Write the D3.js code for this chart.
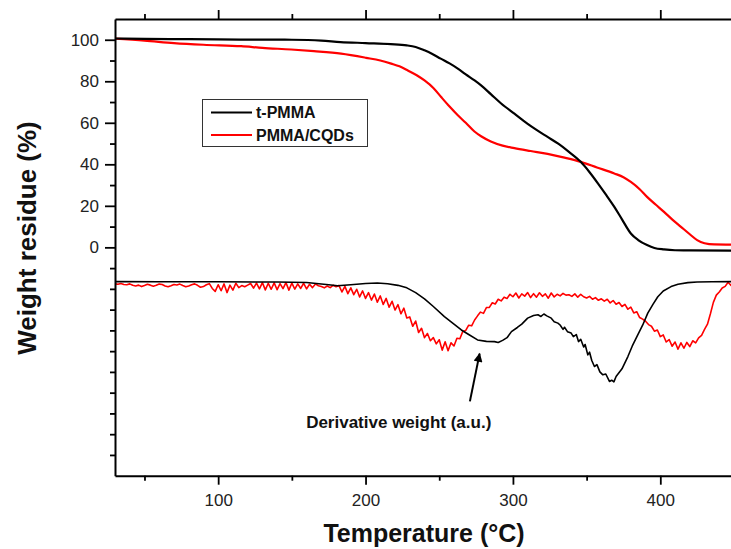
<!DOCTYPE html>
<html>
<head>
<meta charset="utf-8">
<script src="https://cdn.jsdelivr.net/npm/d3@7"></script>
<style>
    body { margin: 0; background: white; }
    svg { display: block; font-family: Arial, 'Liberation Sans', sans-serif; }
</style>
</head>
<body>
<script>

// TGA curves (weight residue %)
const tPmmaTgaTemps = [30, 50, 80, 115, 150, 170, 183, 200, 217, 228, 234, 240, 245, 251, 257, 262.6, 268, 274, 278.4, 285, 292, 301, 310, 316, 323.5, 331, 338, 346, 352, 358, 363, 368.8, 374, 380, 385, 391, 396, 402.5, 410, 420, 450]
const tPmmaTgaValues = [100.6, 100.4, 100.3, 100.1, 100.0, 99.6, 98.9, 98.4, 97.9, 97.3, 96.5, 94.9, 93.3, 90.9, 88.6, 86.1, 83.3, 80.4, 78.0, 73.8, 69.3, 64.4, 59.5, 56.6, 53.2, 49.8, 46.0, 41.2, 36.2, 30.5, 25.5, 19.5, 13.5, 6.7, 3.5, 1.1, -0.3, -1.0, -1.4, -1.5, -1.6]

const cqdTgaTemps = [30, 50, 70, 90, 115.6, 130, 149.5, 165, 183.4, 200.4, 210, 217.4, 223, 228.7, 235, 240, 246, 251.3, 257, 262.6, 268, 273.9, 278.4, 285, 293, 301, 312, 323.5, 335, 346, 357, 368.8, 375, 380, 386, 391, 397, 402.5, 408, 414, 420, 425, 430, 436.6, 450]
const cqdTgaValues = [100.5, 99.6, 98.4, 97.6, 96.9, 96.1, 95.3, 94.5, 93.3, 91.3, 90.0, 88.5, 87.2, 85.2, 82.8, 80.4, 76.8, 72.4, 67.8, 63.6, 60.0, 55.8, 53.5, 51.0, 49.0, 47.8, 46.4, 45.0, 43.2, 41.2, 38.5, 35.6, 33.8, 31.5, 28.0, 24.3, 20.5, 17.1, 13.5, 9.9, 6.3, 3.5, 2.0, 1.4, 1.3]

// derivative curves, drawn on the lower part of the same axis (a.u.)
const tPmmaDtgTemps = [30, 60, 100, 140, 160, 175, 181, 190, 200, 208, 215, 222, 228, 234, 240, 246, 253.5, 260, 265, 270, 276, 282, 287.5, 290, 293, 296, 299, 303, 306, 310, 314, 317, 319, 321, 323, 326, 328, 330.5, 332, 334, 335, 337, 339.5, 341, 343, 344.5, 346, 348, 349, 350.8, 352, 353.5, 355.3, 357, 359, 361, 363, 365.5, 367, 368.5, 370, 374, 378, 381, 384.7, 388, 391.5, 395, 398.3, 402, 407.3, 412, 418.7, 425, 435, 450]
const tPmmaDtgValues = [-16.5, -16.6, -16.6, -16.7, -16.9, -18.0, -18.5, -18.0, -17.4, -17.2, -17.5, -18.3, -19.5, -21.8, -24.8, -28.5, -33.4, -37.0, -39.8, -42.0, -44.6, -45.3, -45.4, -45.8, -44.8, -43.5, -40.6, -38.6, -37.0, -34.1, -32.8, -32.5, -33.3, -32.1, -33.0, -34.1, -35.8, -36.5, -37.4, -39.5, -38.5, -40.6, -41.3, -43.0, -42.0, -45.4, -44.3, -48.0, -46.8, -51.8, -50.5, -54.5, -57.4, -56.5, -60.0, -61.4, -61.0, -64.6, -64.0, -64.8, -62.2, -58.5, -52.6, -47.5, -42.2, -37.5, -31.7, -27.5, -23.8, -21.0, -18.9, -17.8, -17.0, -16.7, -16.6, -16.5]

// PMMA/CQDs derivative, read every 2 °C from 30 to 450
const cqdDtgTemps = d3.range(30, 451, 2)
const cqdDtgValues = [
    -17.6, -17.8, -17.4, -17.9, -18.0, -17.6, -18.3, -18.6, -18.2, -18.9,
    -18.4, -17.8, -18.2, -18.7, -18.3, -17.7, -17.9, -18.6, -19.0, -18.5,
    -17.9, -18.1, -17.7, -18.4, -19.0, -18.6, -18.0, -17.6, -18.3, -19.2,
    -18.9, -18.0, -17.5, -19.8, -21.2, -18.0, -20.9, -17.6, -21.8, -18.2,
    -20.6, -17.3, -19.4, -18.4, -19.0, -18.2, -17.4, -19.6, -17.2, -20.0,
    -17.0, -20.5, -17.3, -20.2, -17.1, -20.4, -17.5, -19.9, -17.0, -20.6,
    -17.2, -20.1, -17.6, -19.8, -17.3, -20.0, -17.8, -19.4, -17.6, -18.5,
    -18.9, -19.5, -18.6, -19.4, -18.3, -19.0, -18.4, -21.5, -18.8, -22.3,
    -19.5, -22.8, -20.2, -23.9, -21.0, -24.6, -21.8, -25.4, -22.5, -26.4,
    -23.4, -27.5, -24.6, -28.8, -26.0, -30.2, -27.6, -32.0, -29.3, -34.0,
    -33.5, -38.0, -35.5, -41.0, -39.0, -43.5, -41.5, -45.0, -43.5, -46.5,
    -44.5, -49.5, -45.5, -49.8, -46.0, -47.5, -43.8, -44.0, -40.5, -40.0,
    -37.5, -37.8, -35.0, -33.0, -31.2, -31.8, -29.0, -28.9, -26.7, -27.3,
    -25.0, -25.8, -24.0, -24.6, -22.6, -23.8, -22.0, -24.4, -22.4, -23.5,
    -21.8, -24.2, -22.3, -24.0, -21.9, -23.6, -22.4, -24.5, -22.0, -23.9,
    -22.6, -23.4, -22.2, -23.0, -22.8, -23.6, -22.4, -24.0, -22.6, -23.8,
    -24.4, -23.6, -25.0, -24.2, -25.5, -24.8, -25.9, -25.0, -26.8, -25.6,
    -27.4, -26.6, -28.5, -27.5, -29.8, -28.8, -31.6, -31.0, -33.8, -34.6,
    -35.6, -37.2, -38.0, -40.4, -39.8, -43.0, -42.2, -45.6, -44.4, -47.6,
    -45.6, -49.0, -46.0, -48.6, -45.8, -47.8, -45.0, -46.0, -43.6, -42.4,
    -39.5, -37.0, -32.0, -26.5, -23.0, -21.5, -19.6, -18.8, -16.8, -18.4,
    -17.8
]

const seriesNames = ['t-PMMA', 'PMMA/CQDs']
const seriesColors = ['#000000', '#ff0000']

const xTicks = [100, 200, 300, 400]
const xMinorTicks = [50, 150, 250, 350]
const yTicks = [0, 20, 40, 60, 80, 100]
const yMinorTicks = [-100, -90, -80, -70, -60, -50, -40, -30, -20, -10, 10, 30, 50, 70, 90]

const annotationText = 'Derivative weight (a.u.)'


class chartHandler {

    constructor() {
        this.width = 731
        this.height = 549
        this.plot = {left: 115, top: 19, right: 734, bottom: 475.7}

        this.x = d3.scaleLinear().domain([30, 450]).range([this.plot.left, this.plot.right])
        this.y = d3.scaleLinear().domain([-110, 110]).range([this.plot.bottom, this.plot.top])

        this.svg = d3.select('body').append('svg')
            .attr('width', this.width)
            .attr('height', this.height)
    }

    render() {
        this.#drawCurves()
        this.#drawAxes()
        this.#drawLegend()
        this.#drawAnnotation()
        this.#drawTitles()
    }

    #zip(temps, values) {
        return temps.map((t, i) => ({t: t, v: values[i]}))
    }

    #drawCurves() {
        const p = this.plot
        this.svg.append('clipPath').attr('id', 'plotClip')
            .append('rect')
            .attr('x', p.left).attr('y', p.top)
            .attr('width', p.right - p.left).attr('height', p.bottom - p.top)

        const smooth = d3.line().x(d => this.x(d.t)).y(d => this.y(d.v)).curve(d3.curveMonotoneX)
        const raw = d3.line().x(d => this.x(d.t)).y(d => this.y(d.v))

        const g = this.svg.append('g').attr('clip-path', 'url(#plotClip)')

        const dtg = [
            {data: this.#zip(cqdDtgTemps, cqdDtgValues), color: seriesColors[1]},
            {data: this.#zip(tPmmaDtgTemps, tPmmaDtgValues), color: seriesColors[0]}
        ]
        g.selectAll('path.dtg')
            .data(dtg)
            .join('path')
            .attr('class', 'dtg')
            .attr('d', d => raw(d.data))
            .attr('fill', 'none')
            .attr('stroke', d => d.color)
            .attr('stroke-width', 1.6)
            .attr('stroke-linejoin', 'round')

        const tga = [
            {data: this.#zip(cqdTgaTemps, cqdTgaValues), color: seriesColors[1]},
            {data: this.#zip(tPmmaTgaTemps, tPmmaTgaValues), color: seriesColors[0]}
        ]
        g.selectAll('path.tga')
            .data(tga)
            .join('path')
            .attr('class', 'tga')
            .attr('d', d => smooth(d.data))
            .attr('fill', 'none')
            .attr('stroke', d => d.color)
            .attr('stroke-width', 2.2)
    }

    #styleAxis(axisG) {
        axisG.select('.domain').attr('stroke-width', 2)
        axisG.selectAll('.tick line').attr('stroke-width', 1.8)
        axisG.selectAll('.tick text')
            .style('font-size', '17px')
            .attr('fill', '#222')
    }

    #drawAxes() {
        const p = this.plot

        const left = this.svg.append('g')
            .attr('transform', `translate(${p.left},0)`)
            .call(d3.axisLeft(this.y).tickValues(yTicks).tickSize(10).tickSizeOuter(0).tickPadding(6))
        this.#styleAxis(left)

        const leftMinor = this.svg.append('g')
            .attr('transform', `translate(${p.left},0)`)
            .call(d3.axisLeft(this.y).tickValues(yMinorTicks).tickSize(5).tickFormat(''))
        leftMinor.select('.domain').remove()
        leftMinor.selectAll('.tick line').attr('stroke-width', 1.8)

        const bottom = this.svg.append('g')
            .attr('transform', `translate(0,${p.bottom})`)
            .call(d3.axisBottom(this.x).tickValues(xTicks).tickSize(9).tickSizeOuter(0).tickPadding(9))
        this.#styleAxis(bottom)

        const bottomMinor = this.svg.append('g')
            .attr('transform', `translate(0,${p.bottom})`)
            .call(d3.axisBottom(this.x).tickValues(xMinorTicks).tickSize(5).tickFormat(''))
        bottomMinor.select('.domain').remove()
        bottomMinor.selectAll('.tick line').attr('stroke-width', 1.8)

        const top = this.svg.append('g')
            .attr('transform', `translate(0,${p.top})`)
            .call(d3.axisTop(this.x).tickValues(xTicks).tickSize(9).tickSizeOuter(0).tickFormat(''))
        this.#styleAxis(top)

        const topMinor = this.svg.append('g')
            .attr('transform', `translate(0,${p.top})`)
            .call(d3.axisTop(this.x).tickValues(xMinorTicks).tickSize(5).tickFormat(''))
        topMinor.select('.domain').remove()
        topMinor.selectAll('.tick line').attr('stroke-width', 1.8)

        const right = this.svg.append('g')
            .attr('transform', `translate(${p.right},0)`)
            .call(d3.axisRight(this.y).tickValues([]).tickSizeOuter(0))
        right.select('.domain').attr('stroke-width', 2)
    }

    #drawLegend() {
        const box = {left: 202, top: 99, width: 165, height: 47}
        const legend = this.svg.append('g').attr('class', 'legend')

        legend.append('rect')
            .attr('x', box.left + 0.5)
            .attr('y', box.top + 0.5)
            .attr('width', box.width)
            .attr('height', box.height)
            .attr('fill', 'white')
            .attr('stroke', '#333')
            .attr('stroke-width', 1)

        const items = legend.selectAll('g.item')
            .data(seriesNames)
            .join('g')
            .attr('class', 'item')
            .attr('transform', (d, i) => `translate(${box.left}, ${box.top + 13.5 + i * 22.5})`)

        items.append('line')
            .attr('x1', 9).attr('x2', 50)
            .attr('stroke', (d, i) => seriesColors[i])
            .attr('stroke-width', 2.2)

        items.append('text')
            .text(d => d)
            .attr('x', 54)
            .attr('dy', '0.36em')
            .style('font-size', '16px')
            .style('font-weight', 'bold')
            .attr('fill', '#111')
    }

    #drawAnnotation() {
        const defs = this.svg.append('defs')
        defs.append('marker')
            .attr('id', 'arrowHead')
            .attr('viewBox', '0 0 10 10')
            .attr('refX', 9).attr('refY', 5)
            .attr('markerWidth', 5).attr('markerHeight', 4.5)
            .attr('orient', 'auto')
            .append('path')
            .attr('d', 'M0,0 L10,5 L0,10 Z')
            .attr('fill', '#000')

        this.svg.append('line')
            .attr('x1', this.x(270.8)).attr('y1', this.y(-74.2))
            .attr('x2', this.x(277.4)).attr('y2', this.y(-51.2))
            .attr('stroke', '#000')
            .attr('stroke-width', 2)
            .attr('marker-end', 'url(#arrowHead)')

        this.svg.append('text')
            .text(annotationText)
            .attr('x', this.x(159.7))
            .attr('y', this.y(-86.9))
            .style('font-size', '17px')
            .style('font-weight', 'bold')
            .attr('fill', '#111')
    }

    #drawTitles() {
        this.svg.append('text')
            .text('Temperature (°C)')
            .attr('x', 424)
            .attr('y', 542)
            .attr('text-anchor', 'middle')
            .style('font-size', '25px')
            .style('font-weight', 'bold')
            .attr('fill', '#111')

        this.svg.append('text')
            .text('Weight residue (%)')
            .attr('transform', 'translate(36, 238) rotate(-90)')
            .attr('text-anchor', 'middle')
            .style('font-size', '26px')
            .style('font-weight', 'bold')
            .attr('fill', '#111')
    }

}

const chart = new chartHandler()
chart.render()

</script>
</body>
</html>
